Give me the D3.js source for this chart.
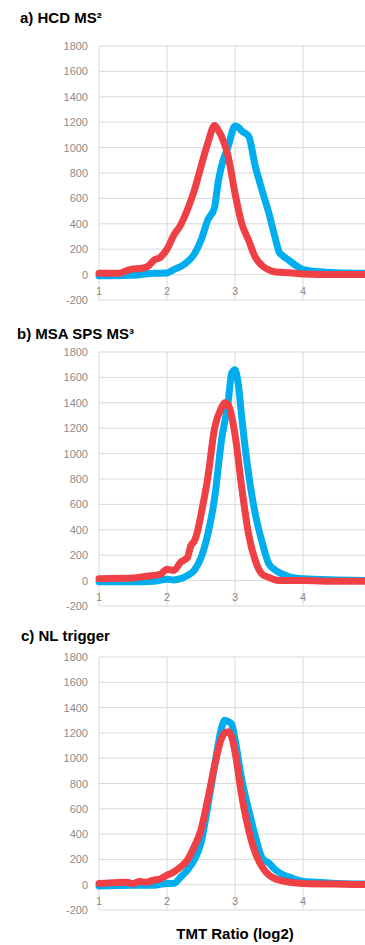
<!DOCTYPE html>
<html>
<head>
<meta charset="utf-8">
<script src="https://cdn.jsdelivr.net/npm/d3@7"></script>
<style>
  body { margin: 0; background: #fff; }
  svg { display: block; }
  .tick-label { font-family: "Liberation Sans", Arial, sans-serif; font-size: 11px; fill: #8c8c8c; }
  .title { font-family: "Liberation Sans", Arial, sans-serif; font-size: 15px; font-weight: bold; fill: #000; }
</style>
</head>
<body>
<svg id="chart" width="365" height="945"></svg>
<script>
// tick values
const yTicks = [-200, 0, 200, 400, 600, 800, 1000, 1200, 1400, 1600, 1800];
const xTicks = [1, 2, 3, 4, 5];
const panelTitles = ["a) HCD MS²", "b) MSA SPS MS³", "c) NL trigger"];
const xAxisTitle = "TMT Ratio (log2)";

// panel a (x = log2 TMT ratio, y = count)
const aBlueX = [1.0, 1.5, 1.8, 2.0, 2.1, 2.25, 2.4, 2.5, 2.6, 2.7, 2.75, 2.8, 2.9, 3.0, 3.05, 3.1, 3.2, 3.3, 3.4, 3.5, 3.6, 3.65, 3.7, 3.8, 3.9, 4.0, 4.2, 4.5, 5.0];
const aBlueY = [-10, -5, 10, 12, 40, 80, 160, 270, 430, 530, 720, 850, 1010, 1170, 1160, 1130, 1090, 850, 660, 480, 270, 175, 150, 110, 70, 40, 25, 15, 10];
const aRedX = [1.0, 1.3, 1.4, 1.5, 1.6, 1.7, 1.75, 1.8, 1.9, 2.0, 2.1, 2.2, 2.3, 2.4, 2.5, 2.6, 2.7, 2.75, 2.8, 2.9, 3.0, 3.1, 3.2, 3.3, 3.4, 3.5, 3.6, 3.8, 4.0, 4.5, 5.0];
const aRedY = [10, 10, 30, 45, 48, 60, 80, 110, 135, 200, 310, 390, 510, 660, 850, 1035, 1175, 1140, 1090, 930, 640, 400, 270, 135, 70, 37, 20, 15, 5, 0, 0];

// panel b
const bBlueX = [1.0, 1.5, 1.8, 2.0, 2.1, 2.2, 2.3, 2.4, 2.5, 2.6, 2.7, 2.8, 2.9, 2.95, 3.0, 3.05, 3.1, 3.2, 3.3, 3.4, 3.5, 3.6, 3.7, 3.8, 4.0, 4.5, 5.0];
const bBlueY = [-10, -10, -5, 10, 5, 15, 40, 80, 180, 365, 650, 1100, 1410, 1630, 1660, 1540, 1280, 840, 520, 300, 130, 80, 50, 30, 15, 5, 0];
const bRedX = [1.0, 1.5, 1.7, 1.9, 2.0, 2.1, 2.2, 2.3, 2.35, 2.4, 2.45, 2.5, 2.6, 2.7, 2.8, 2.85, 2.9, 3.0, 3.1, 3.2, 3.3, 3.4, 3.5, 3.6, 3.7, 4.0, 4.5, 5.0];
const bRedY = [15, 20, 35, 50, 90, 80, 145, 180, 275, 310, 390, 520, 810, 1200, 1360, 1400, 1385, 1150, 730, 365, 155, 50, 25, 5, 0, 0, -5, -5];

// panel c
const cBlueX = [1.0, 1.5, 1.8, 2.0, 2.1, 2.2, 2.3, 2.4, 2.5, 2.6, 2.7, 2.8, 2.85, 2.9, 2.95, 3.0, 3.1, 3.2, 3.3, 3.4, 3.5, 3.6, 3.7, 3.8, 3.9, 4.0, 4.2, 4.5, 5.0];
const cBlueY = [-10, -5, -5, 10, 10, 60, 115, 195, 330, 620, 940, 1235, 1300, 1290, 1270, 1150, 830, 595, 380, 210, 170, 115, 80, 60, 40, 25, 20, 10, 5];
const cRedX = [1.0, 1.2, 1.4, 1.5, 1.6, 1.7, 1.8, 1.9, 2.0, 2.1, 2.2, 2.3, 2.4, 2.5, 2.6, 2.7, 2.8, 2.85, 2.9, 2.95, 3.0, 3.1, 3.2, 3.3, 3.4, 3.5, 3.6, 3.7, 3.8, 4.0, 4.5, 5.0];
const cRedY = [10, 15, 20, 10, 25, 20, 35, 45, 75, 100, 140, 195, 300, 435, 675, 940, 1155, 1200, 1210, 1170, 1050, 700, 435, 250, 140, 75, 45, 30, 20, 10, 5, 0];

const panels = [
  { title: panelTitles[0], titleX: 20, titleY: 23, top: 46, bottom: 300, blue: [aBlueX, aBlueY], red: [aRedX, aRedY] },
  { title: panelTitles[1], titleX: 17, titleY: 339, top: 352, bottom: 606, blue: [bBlueX, bBlueY], red: [bRedX, bRedY] },
  { title: panelTitles[2], titleX: 21, titleY: 641, top: 657, bottom: 910, blue: [cBlueX, cBlueY], red: [cRedX, cRedY] }
];

const left = 99, right = 371;
const blue = "#00aeef", red = "#ee4045", grid = "#d9d9d9";

const svg = d3.select("#chart");
const x = d3.scaleLinear().domain([1, 5]).range([left, right]);

panels.forEach(p => {
  const y = d3.scaleLinear().domain([-200, 1800]).range([p.bottom, p.top]);
  const g = svg.append("g");

  // horizontal gridlines
  g.selectAll(".hgrid").data(yTicks).enter().append("line")
    .attr("x1", left).attr("x2", right)
    .attr("y1", d => y(d)).attr("y2", d => y(d))
    .attr("stroke", grid).attr("stroke-width", 1);
  // vertical gridlines
  g.selectAll(".vgrid").data(xTicks).enter().append("line")
    .attr("x1", d => x(d)).attr("x2", d => x(d))
    .attr("y1", p.top).attr("y2", p.bottom)
    .attr("stroke", grid).attr("stroke-width", 1);

  // y labels
  g.selectAll(".ylab").data(yTicks).enter().append("text")
    .attr("class", "tick-label")
    .attr("x", 88).attr("y", d => y(d) + 4)
    .attr("text-anchor", "end")
    .text(d => d);
  // x labels under the zero line
  g.selectAll(".xlab").data(xTicks.slice(0, 4)).enter().append("text")
    .attr("class", "tick-label")
    .attr("x", d => x(d)).attr("y", y(0) + 20)
    .attr("text-anchor", "middle")
    .text(d => d);

  g.append("text").attr("class", "title")
    .attr("x", p.titleX).attr("y", p.titleY)
    .text(p.title);

  const line = d3.line()
    .x(d => x(d[0])).y(d => y(d[1]))
    .curve(d3.curveMonotoneX);

  [[p.blue, blue], [p.red, red]].forEach(([s, col]) => {
    const pts = s[0].map((v, i) => [v, s[1][i]]);
    g.append("path").datum(pts)
      .attr("d", line)
      .attr("fill", "none")
      .attr("stroke", col)
      .attr("stroke-width", 7)
      .attr("stroke-linejoin", "round")
      .attr("stroke-linecap", "round");
  });
});

svg.append("text").attr("class", "title")
  .attr("x", 235).attr("y", 939)
  .attr("text-anchor", "middle")
  .text(xAxisTitle);
</script>
</body>
</html>
